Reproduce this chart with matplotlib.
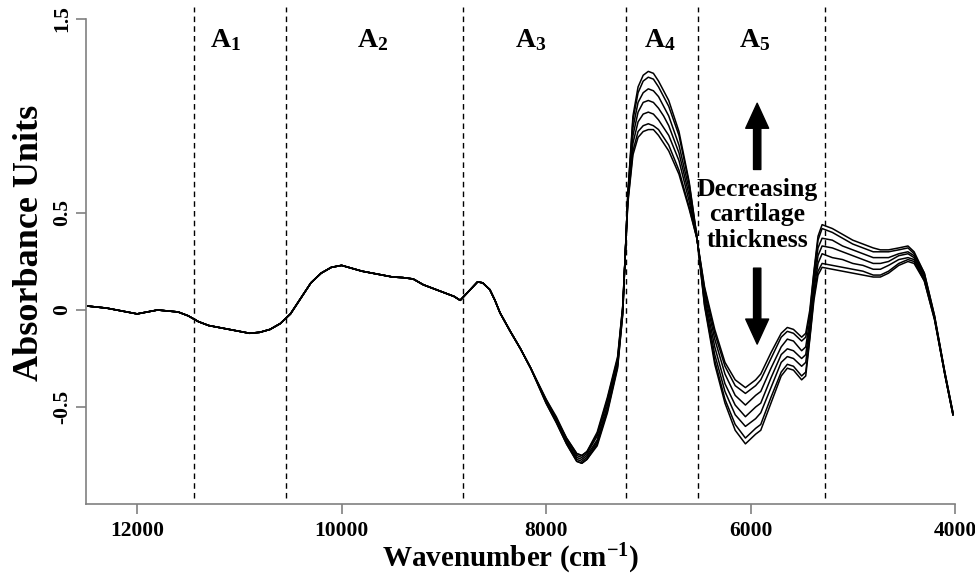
import matplotlib.pyplot as plt
import numpy as np

plt.rcParams['font.family'] = ['Liberation Serif', 'DejaVu Serif']
plt.rcParams['font.weight'] = 'bold'
plt.rcParams['mathtext.fontset'] = 'custom'
plt.rcParams['mathtext.rm'] = 'Liberation Serif:bold'
plt.rcParams['mathtext.it'] = 'Liberation Serif:bold'
plt.rcParams['mathtext.bf'] = 'Liberation Serif:bold'

# 12500-8150 cm-1: all spectra lie on top of each other here
head_wn = [12480, 12300, 12100, 12000, 11900, 11800, 11700, 11600, 11500, 11400,
           11300, 11200, 11100, 11000, 10900, 10800, 10700, 10600, 10500, 10400,
           10300, 10200, 10100, 10000, 9900, 9800, 9700, 9600, 9500, 9400,
           9300, 9200, 9100, 9000, 8900, 8840, 8750, 8670, 8620, 8550,
           8500, 8450, 8350, 8250, 8150]
head_abs = [0.02, 0.01, -0.01, -0.02, -0.01, 0.0, -0.005, -0.01, -0.03, -0.06,
            -0.08, -0.09, -0.10, -0.11, -0.12, -0.115, -0.10, -0.07, -0.02, 0.06,
            0.14, 0.19, 0.22, 0.23, 0.215, 0.20, 0.19, 0.18, 0.17, 0.167,
            0.16, 0.13, 0.11, 0.09, 0.07, 0.05, 0.10, 0.145, 0.14, 0.105,
            0.05, -0.015, -0.11, -0.20, -0.30]

# 8000-4020 cm-1: the spectra separate (A4, A5 and beyond)
tail_wn = [8000, 7900, 7800, 7700, 7650, 7600, 7500, 7400, 7300, 7250,
           7200, 7150, 7100, 7050, 7000, 6950, 6900, 6850, 6800, 6700,
           6600, 6525, 6450, 6350, 6250, 6150, 6050, 5950, 5900, 5800,
           5700, 5640, 5580, 5500, 5460, 5420, 5380, 5340, 5300, 5200,
           5100, 5000, 4900, 4800, 4730, 4650, 4550, 4460, 4400, 4300,
           4200, 4100, 4020]

spec_1 = [-0.48, -0.58, -0.69, -0.78, -0.79, -0.77, -0.70, -0.53, -0.30, -0.02,
          0.60, 1.00, 1.15, 1.21, 1.23, 1.22, 1.18, 1.13, 1.08, 0.92,
          0.66, 0.38, 0.02, -0.28, -0.48, -0.62, -0.69, -0.64, -0.62, -0.48,
          -0.34, -0.30, -0.31, -0.36, -0.34, -0.15, 0.05, 0.18, 0.22, 0.21,
          0.20, 0.19, 0.18, 0.17, 0.17, 0.19, 0.23, 0.25, 0.24, 0.15,
          -0.05, -0.33, -0.54]
spec_2 = [-0.48, -0.58, -0.69, -0.78, -0.79, -0.77, -0.69, -0.52, -0.29, -0.02,
          0.60, 0.98, 1.12, 1.18, 1.20, 1.19, 1.15, 1.10, 1.05, 0.90,
          0.65, 0.38, 0.03, -0.26, -0.46, -0.59, -0.66, -0.61, -0.59, -0.45,
          -0.32, -0.28, -0.29, -0.34, -0.32, -0.14, 0.07, 0.20, 0.24, 0.23,
          0.22, 0.21, 0.20, 0.18, 0.18, 0.20, 0.24, 0.26, 0.25, 0.15,
          -0.05, -0.33, -0.54]
spec_3 = [-0.47, -0.57, -0.68, -0.77, -0.78, -0.76, -0.68, -0.51, -0.28, -0.01,
          0.59, 0.94, 1.07, 1.12, 1.14, 1.13, 1.10, 1.05, 1.00, 0.85,
          0.62, 0.38, 0.05, -0.23, -0.42, -0.54, -0.60, -0.56, -0.53, -0.40,
          -0.27, -0.24, -0.25, -0.29, -0.27, -0.11, 0.10, 0.24, 0.29, 0.27,
          0.26, 0.24, 0.23, 0.21, 0.21, 0.23, 0.26, 0.27, 0.26, 0.16,
          -0.04, -0.33, -0.54]
spec_4 = [-0.47, -0.57, -0.68, -0.76, -0.77, -0.75, -0.67, -0.49, -0.27, 0.00,
          0.58, 0.90, 1.02, 1.07, 1.08, 1.07, 1.04, 1.00, 0.95, 0.81,
          0.59, 0.375, 0.07, -0.19, -0.38, -0.49, -0.55, -0.50, -0.48, -0.35,
          -0.23, -0.20, -0.21, -0.25, -0.23, -0.08, 0.13, 0.28, 0.33, 0.32,
          0.30, 0.28, 0.26, 0.24, 0.24, 0.25, 0.28, 0.29, 0.27, 0.17,
          -0.04, -0.33, -0.54]
spec_5 = [-0.47, -0.56, -0.67, -0.75, -0.76, -0.74, -0.65, -0.47, -0.26, 0.01,
          0.57, 0.86, 0.97, 1.01, 1.02, 1.01, 0.98, 0.94, 0.90, 0.77,
          0.56, 0.37, 0.09, -0.15, -0.33, -0.44, -0.49, -0.44, -0.42, -0.30,
          -0.19, -0.15, -0.16, -0.21, -0.19, -0.05, 0.16, 0.32, 0.37, 0.36,
          0.33, 0.31, 0.29, 0.27, 0.27, 0.27, 0.29, 0.30, 0.28, 0.18,
          -0.04, -0.32, -0.53]
spec_6 = [-0.46, -0.56, -0.66, -0.74, -0.75, -0.73, -0.64, -0.46, -0.25, 0.02,
          0.56, 0.82, 0.92, 0.95, 0.96, 0.95, 0.93, 0.89, 0.85, 0.72,
          0.53, 0.37, 0.11, -0.12, -0.29, -0.39, -0.43, -0.39, -0.36, -0.25,
          -0.14, -0.11, -0.12, -0.16, -0.14, -0.02, 0.19, 0.36, 0.42, 0.40,
          0.37, 0.34, 0.32, 0.30, 0.30, 0.30, 0.31, 0.32, 0.29, 0.19,
          -0.03, -0.32, -0.53]
spec_7 = [-0.46, -0.55, -0.66, -0.74, -0.75, -0.73, -0.63, -0.45, -0.24, 0.02,
          0.55, 0.80, 0.89, 0.92, 0.93, 0.93, 0.90, 0.86, 0.82, 0.70,
          0.52, 0.37, 0.12, -0.10, -0.27, -0.36, -0.40, -0.36, -0.33, -0.22,
          -0.12, -0.09, -0.10, -0.14, -0.12, 0.00, 0.20, 0.38, 0.44, 0.42,
          0.39, 0.36, 0.34, 0.32, 0.31, 0.31, 0.32, 0.33, 0.30, 0.19,
          -0.03, -0.32, -0.53]
spectra = [spec_1, spec_2, spec_3, spec_4, spec_5, spec_6, spec_7]

region_edges = [11445, 10545, 8815, 7220, 6515, 5275]
region_names = ['A$_1$', 'A$_2$', 'A$_3$', 'A$_4$', 'A$_5$']
region_name_x = [11140, 9700, 8155, 6885, 5955]

x_ticks = [12000, 10000, 8000, 6000, 4000]
y_ticks = [-0.5, 0, 0.5, 1.5]
y_tick_labels = ['-0.5', '0', '0.5', '1.5']

fig = plt.figure(figsize=(9.75, 5.75), dpi=100)
ax = fig.add_axes([86 / 975, 1 - 504 / 575, 869 / 975, 485 / 575])

for spec in spectra:
    wn = np.array(head_wn + tail_wn)
    ab = np.array(head_abs + spec)
    ax.plot(wn, ab, color='black', lw=1.1)

ax.vlines(region_edges, -0.97, 1.56, colors='black', linestyles=(0, (4, 3)),
          lw=1.0, clip_on=False)
for name, x in zip(region_names, region_name_x):
    ax.text(x, 1.39, name, ha='center', va='center', fontsize=20)

ax.text(5935, 0.49, 'Decreasing\ncartilage\nthickness', ha='center', va='center',
        fontsize=18.5, linespacing=1.12)
arrow = dict(arrowstyle='simple,head_length=1.2,head_width=1.1,tail_width=0.35',
             fc='black', ec='black', mutation_scale=15)
ax.annotate('', xy=(5935, 1.08), xytext=(5935, 0.71), arrowprops=arrow)
ax.annotate('', xy=(5935, -0.19), xytext=(5935, 0.23), arrowprops=arrow)

ax.set_xlim(12500, 4000)
ax.set_ylim(-1.0, 1.5)
ax.set_xticks(x_ticks)
ax.set_yticks(y_ticks)
ax.set_yticklabels(y_tick_labels, rotation=90, va='center')

for side in ['top', 'right']:
    ax.spines[side].set_visible(False)
for side in ['left', 'bottom']:
    ax.spines[side].set_color('#808080')
    ax.spines[side].set_linewidth(1.2)
ax.tick_params(colors='#808080', labelcolor='black', length=7, width=1.2,
               labelsize=15.5)
ax.tick_params(axis='y', pad=3)
ax.tick_params(axis='x', pad=5)

fig.text(511 / 975, 1 - 559 / 575, 'Wavenumber (cm$^{-1}$)', fontsize=21,
         fontweight='bold', ha='center', va='center')
fig.text(30 / 975, 1 - 243 / 575, 'Absorbance Units', fontsize=26,
         fontweight='bold', rotation=90, ha='center', va='center')

fig.savefig('out.png', dpi=100)
